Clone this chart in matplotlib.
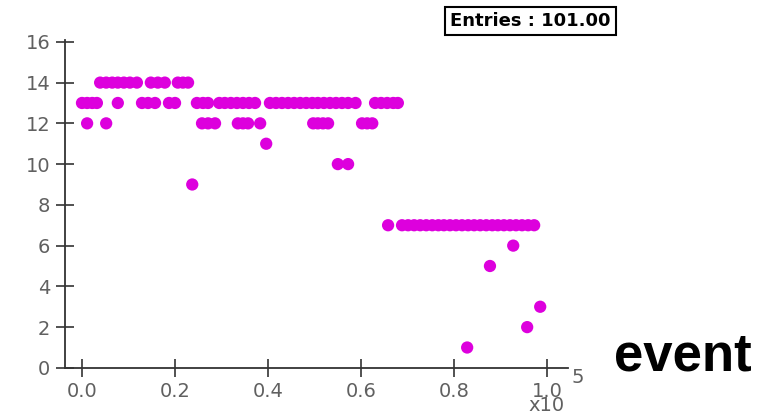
"""
Scatter of a per-event value vs event number.
Output: out.png
"""
import matplotlib.pyplot as plt
from matplotlib.ticker import FuncFormatter

OUT_PATH = "out.png"

# event numbers grouped by value
ev_14 = [3900, 5200, 6500, 7700, 9000, 10300, 11800, 14800, 16300, 17800,
         20600, 21700, 22800]
ev_13 = [0, 1100, 2200, 3200, 7700, 12900, 14200, 15700, 18700, 20000,
         24700, 26000, 27100, 29500, 30700, 32000, 33300, 34600, 35900, 37200,
         40400, 41700, 43000, 44300, 45600, 46900, 48200, 49500, 50700, 52000,
         53300, 54600, 55900, 57200, 58800, 63000, 64300, 65600, 66900, 67900]
ev_12 = [1100, 5200, 25800, 27100, 28600, 33500, 34600, 35700, 38300,
         49700, 50700, 51800, 52900, 60200, 61300, 62400]
ev_11 = [39600]
ev_10 = [55000, 57200]
ev_9 = [23700]
ev_7 = [65800, 68800, 70100, 71400, 72700, 74000, 75300, 76600, 77800, 79100,
        80400, 81700, 83000, 84300, 85600, 86900, 88200, 89400, 90700, 92000,
        93300, 94600, 95900, 97200]
ev_6 = [92700]
ev_5 = [87700]
ev_3 = [98500]
ev_2 = [95700]
ev_1 = [82800]

groups = [(14, ev_14), (13, ev_13), (12, ev_12), (11, ev_11), (10, ev_10),
          (9, ev_9), (7, ev_7), (6, ev_6), (5, ev_5), (3, ev_3), (2, ev_2),
          (1, ev_1)]

x_ticks = [0, 20000, 40000, 60000, 80000, 100000]
y_ticks = [0, 2, 4, 6, 8, 10, 12, 14, 16]
n_entries = sum(len(ev) for _, ev in groups) - 1


def main():
    fig = plt.figure(figsize=(7.74, 4.19), dpi=100)
    ax = fig.add_axes([0.084, 0.122, 0.65, 0.783])

    xs, ys = [], []
    for val, ev in groups:
        xs += ev
        ys += [val] * len(ev)
    ax.scatter(xs, ys, s=78, color="#dd00dd", edgecolors="none", zorder=3)

    ax.set_xlim(-3650, 104500)
    ax.set_ylim(0, 16.1)
    ax.set_xticks(x_ticks)
    ax.set_yticks(y_ticks)
    ax.xaxis.set_major_formatter(FuncFormatter(lambda v, p: f"{v / 1e5:.1f}"))

    for side in ["top", "right"]:
        ax.spines[side].set_visible(False)
    for side in ["left", "bottom"]:
        ax.spines[side].set_color("#333333")
        ax.spines[side].set_linewidth(1.3)
    ax.tick_params(direction="inout", length=13, width=1.2, color="#333333",
                   labelsize=14, labelcolor="#606060", pad=4)

    # axis multiplier, drawn like the original (overlapping the last label)
    fig.text(0.683, 0.018, "x10", fontsize=14, color="#606060")
    fig.text(0.738, 0.085, "5", fontsize=14, color="#606060")

    fig.text(0.582, 0.95, f"Entries : {n_entries:.2f}", fontsize=13,
             fontweight="bold", ha="left", va="center",
             bbox=dict(boxstyle="square,pad=0.3", fc="white", ec="black", lw=1.5))

    fig.text(0.882, 0.15, "event", fontsize=38, fontweight="bold",
             family="Liberation Sans", ha="center", va="center")

    fig.savefig(OUT_PATH, dpi=100)
    plt.close()


if __name__ == "__main__":
    main()
